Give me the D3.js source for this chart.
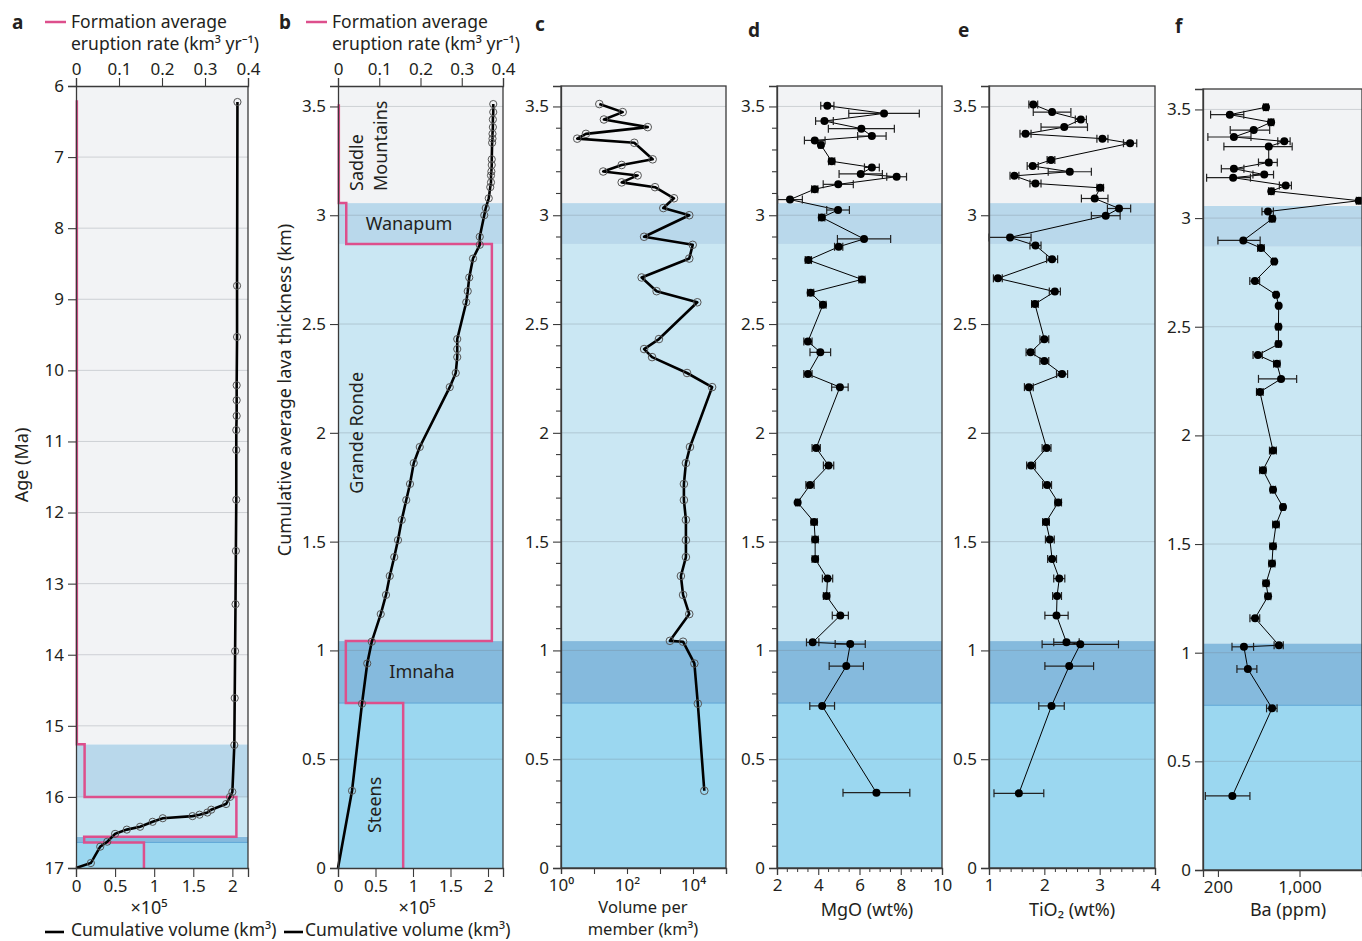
<!DOCTYPE html>
<html>
<head>
<meta charset="utf-8">
<script src="https://cdn.jsdelivr.net/npm/d3@7"></script>
<style>
  body { margin: 0; background: #fff; }
  text { font-family: "Noto Sans", "DejaVu Sans", sans-serif; fill: #231f20; }
</style>
</head>
<body>
<svg id="chart" width="1362" height="941"></svg>
<script>
// ---- formations (oldest first) ----
var formations = ["Steens", "Imnaha", "Grande Ronde", "Wanapum", "Saddle Mountains"];
var formationRate = [0.158, 0.019, 0.373, 0.02, 0.002];          // km3/yr
var formationAge = [17, 16.64, 16.56, 16.0, 15.26, 6.2];          // Ma, boundaries
var formationThick = [0, 0.758, 1.043, 2.868, 3.056, 3.51];       // km, boundaries
var bandColors = ["#9bd7f0", "#85badd", "#cae7f3", "#b9d8eb", "#f2f3f5"];

// ---- panel a: cumulative volume vs age ----
var ageA = [17, 16.93, 16.7, 16.63, 16.52, 16.46, 16.42, 16.35, 16.3, 16.27, 16.25, 16.22, 16.18, 16.1, 16.0, 15.93,
            15.27, 14.61, 13.95, 13.29, 12.54, 11.82, 11.12, 10.84, 10.64, 10.42, 10.21, 9.53, 8.81, 6.225];
var volA = [0, 0.19, 0.31, 0.4, 0.5, 0.65, 0.82, 0.98, 1.11, 1.49, 1.58, 1.68, 1.73, 1.92, 1.97, 2.0,
            2.025, 2.03, 2.035, 2.04, 2.045, 2.05, 2.05, 2.05, 2.055, 2.055, 2.055, 2.06, 2.06, 2.065];

// ---- panel b: cumulative volume vs cumulative thickness ----
var thickB = [0, 0.355, 0.755, 0.94, 1.04, 1.167, 1.255, 1.342, 1.429, 1.507, 1.6, 1.691, 1.765, 1.861, 1.935,
              2.21, 2.275, 2.348, 2.385, 2.431, 2.6, 2.651, 2.714, 2.801, 2.864, 2.901, 3.0, 3.033, 3.078,
              3.129, 3.151, 3.183, 3.201, 3.231, 3.257, 3.333, 3.352, 3.374, 3.405, 3.44, 3.474, 3.511];
var volB = [0, 0.187, 0.32, 0.39, 0.45, 0.57, 0.64, 0.69, 0.75, 0.8, 0.85, 0.91, 0.96, 1.01, 1.09,
            1.49, 1.57, 1.59, 1.59, 1.59, 1.71, 1.73, 1.75, 1.8, 1.89, 1.89, 1.95, 1.97, 2.01,
            2.03, 2.04, 2.04, 2.045, 2.05, 2.05, 2.055, 2.06, 2.06, 2.065, 2.065, 2.07, 2.07];

// ---- panel c: volume per member ----
var thickC = [0.355, 0.755, 0.94, 1.04, 1.044, 1.167, 1.255, 1.342, 1.429, 1.507, 1.6, 1.691, 1.765, 1.861, 1.935,
              2.21, 2.275, 2.348, 2.385, 2.431, 2.6, 2.651, 2.714, 2.801, 2.864, 2.901, 3.0, 3.033, 3.078,
              3.129, 3.151, 3.183, 3.201, 3.231, 3.257, 3.333, 3.352, 3.374, 3.405, 3.44, 3.474, 3.511];
var volC = [22000, 14000, 11000, 5000, 2000, 7700, 5000, 4300, 6100, 6100, 6100, 5300, 5300, 6100, 8100,
            38000, 6600, 575, 330, 930, 13500, 790, 278, 7700, 9800, 330, 7700, 1260, 2650,
            707, 69, 210, 19, 69, 600, 166, 3.1, 5.7, 425, 20, 74, 14.5];

// ---- panel d: MgO ----
var thickD = [0.346, 0.745, 0.928, 1.029, 1.037, 1.161, 1.25, 1.33, 1.42, 1.51, 1.59, 1.68, 1.76, 1.85, 1.93,
              2.21, 2.27, 2.37, 2.42, 2.589, 2.644, 2.705, 2.794, 2.855, 2.891, 2.99, 3.024, 3.072,
              3.12, 3.142, 3.177, 3.19, 3.22, 3.248, 3.323, 3.344, 3.364, 3.398, 3.433, 3.468, 3.503];
var mgo = [6.82, 4.19, 5.36, 5.55, 3.73, 5.07, 4.4, 4.45, 3.85, 3.85, 3.8, 3.0, 3.6, 4.5, 3.9,
           5.05, 3.5, 4.1, 3.5, 4.23, 3.63, 6.12, 3.52, 4.99, 6.22, 4.17, 4.96, 2.63,
           3.83, 4.97, 7.8, 6.06, 6.6, 4.65, 4.13, 3.83, 6.6, 6.09, 4.3, 7.19, 4.44];
var mgoErr = [1.62, 0.6, 0.83, 0.73, 0.3, 0.39, 0.15, 0.25, 0.15, 0.15, 0.15, 0.1, 0.2, 0.25, 0.2,
              0.4, 0.2, 0.5, 0.2, 0.15, 0.15, 0.15, 0.15, 0.2, 1.29, 0.15, 0.55, 0.6,
              0.15, 0.73, 0.48, 1.05, 0.36, 0.15, 0.1, 0.5, 0.69, 1.6, 0.43, 1.71, 0.32];

// ---- panel e: TiO2 ----
var thickE = [0.343, 0.745, 0.928, 1.028, 1.037, 1.161, 1.25, 1.33, 1.42, 1.51, 1.59, 1.68, 1.76, 1.85, 1.93,
              2.21, 2.27, 2.33, 2.37, 2.43, 2.592, 2.649, 2.71, 2.798, 2.861, 2.898, 2.998, 3.031, 3.077,
              3.126, 3.146, 3.181, 3.2, 3.226, 3.254, 3.331, 3.352, 3.374, 3.405, 3.44, 3.474, 3.509];
var tio2 = [1.54, 2.13, 2.45, 2.65, 2.4, 2.22, 2.23, 2.27, 2.14, 2.1, 2.03, 2.25, 2.05, 1.76, 2.04,
            1.72, 2.32, 2.0, 1.75, 2.0, 1.83, 2.19, 1.16, 2.14, 1.84, 1.38, 3.11, 3.35, 2.91,
            3.01, 1.84, 1.46, 2.46, 1.79, 2.12, 3.55, 3.05, 1.66, 2.36, 2.66, 2.14, 1.8];
var tio2Err = [0.45, 0.23, 0.44, 0.69, 0.23, 0.21, 0.08, 0.1, 0.08, 0.08, 0.06, 0.06, 0.08, 0.08, 0.08,
               0.08, 0.1, 0.08, 0.08, 0.08, 0.06, 0.1, 0.08, 0.1, 0.1, 0.38, 0.26, 0.21, 0.24,
               0.06, 0.1, 0.08, 0.39, 0.1, 0.07, 0.12, 0.1, 0.1, 0.42, 0.1, 0.34, 0.08];

// ---- panel f: Ba ----
var thickF = [0.341, 0.744, 0.925, 1.027, 1.034, 1.159, 1.26, 1.32, 1.41, 1.49, 1.59, 1.67, 1.75, 1.84, 1.93,
              2.2, 2.26, 2.33, 2.37, 2.42, 2.5, 2.597, 2.647, 2.71, 2.8, 2.862, 2.897, 2.997, 3.03, 3.08,
              3.124, 3.15, 3.186, 3.2, 3.227, 3.256, 3.329, 3.353, 3.373, 3.405, 3.441, 3.476, 3.51];
var ba = [266, 582, 361, 334, 666, 416, 538, 517, 581, 593, 629, 722, 593, 486, 593,
          458, 695, 640, 440, 660, 660, 663, 630, 415, 608, 468, 330, 585, 537, 3220,
          573, 762, 270, 499, 274, 545, 545, 741, 274, 405, 571, 253, 516];
var baErr = [110, 60, 70, 70, 60, 40, 30, 30, 35, 35, 40, 30, 30, 30, 40,
             30, 250, 40, 40, 30, 30, 20, 20, 40, 20, 30, 130, 30, 60, 150,
             30, 90, 110, 100, 60, 100, 320, 90, 110, 150, 30, 80, 25];

// ---- axes ticks ----
var ageTicks = d3.range(6, 18);
var thickTicks = [0, 0.5, 1, 1.5, 2, 2.5, 3, 3.5];
var volTicks = [0, 0.5e5, 1e5, 1.5e5, 2e5];
var rateTicks = [0, 0.1, 0.2, 0.3, 0.4];
var logVolTicks = [1, 10, 100, 1000, 1e4, 1e5];
var mgoTicks = [2, 4, 6, 8, 10];
var tio2Ticks = [1, 2, 3, 4];
var baTicks = [200, 1000];

var svg = d3.select("#chart");
var fmt = function (d) { return String(+d.toFixed(2)); };
var pink = "#dd4f8c";
var axisCol = "#3a3a3a";

function styleAxis(g) {
  g.selectAll("path.domain").attr("stroke", axisCol).attr("stroke-width", 1.3);
  g.selectAll(".tick line").attr("stroke", axisCol).attr("stroke-width", 1.1);
  g.selectAll(".tick text").style("font-size", "17px").attr("fill", "#231f20");
}

function drawBands(g, y, x0, x1, bounds, topVal, botVal) {
  for (var i = 0; i < formations.length; i++) {
    var a = i === 0 ? botVal : bounds[i];
    var b = i === formations.length - 1 ? topVal : bounds[i + 1];
    g.append("rect")
      .attr("x", x0).attr("width", x1 - x0)
      .attr("y", Math.min(y(a), y(b))).attr("height", Math.abs(y(a) - y(b)))
      .attr("fill", bandColors[i]);
  }
  // thin line under Imnaha
  g.append("line").attr("x1", x0).attr("x2", x1)
    .attr("y1", y(bounds[1])).attr("y2", y(bounds[1]))
    .attr("stroke", "#5ea6d6").attr("stroke-width", 1);
}

function drawGrid(g, y, x0, x1, ticks) {
  g.selectAll(null).data(ticks).enter().append("line")
    .attr("x1", x0).attr("x2", x1)
    .attr("y1", function (d) { return y(d); }).attr("y2", function (d) { return y(d); })
    .attr("stroke", "rgba(110,120,130,0.28)").attr("stroke-width", 1);
}

function frame(g, x0, x1, yTop, yBot) {
  g.append("rect").attr("x", x0).attr("y", yTop).attr("width", x1 - x0).attr("height", yBot - yTop)
    .attr("fill", "none").attr("stroke", axisCol).attr("stroke-width", 1.3);
}

function thickAxis(x0, y, minor) {
  var g = svg.append("g").attr("transform", "translate(" + x0 + ",0)")
    .call(d3.axisLeft(y).tickValues(thickTicks).tickFormat(fmt).tickSize(8).tickPadding(4));
  styleAxis(g);
  if (minor) {
    var mt = d3.range(0, 36).map(function (d) { return d / 10; })
      .filter(function (d) { return Math.abs(d * 2 - Math.round(d * 2)) > 0.01; });
    svg.append("g").selectAll(null).data(mt).enter().append("line")
      .attr("x1", x0 - 5).attr("x2", x0)
      .attr("y1", function (d) { return y(d); }).attr("y2", function (d) { return y(d); })
      .attr("stroke", axisCol).attr("stroke-width", 1.1);
  }
}

function label(x, y, t, opts) {
  opts = opts || {};
  var el = svg.append("text").attr("x", x).attr("y", y).text(t)
    .style("font-size", (opts.size || 18) + "px")
    .attr("text-anchor", opts.anchor || "start");
  if (opts.bold) el.style("font-weight", "bold");
  if (opts.rotate) el.attr("transform", "rotate(-90," + x + "," + y + ")");
  return el;
}

// ================= PANEL A =================
var aX0 = 76, aX1 = 248, top0 = 86, bot0 = 868;
var yAge = d3.scaleLinear().domain([6, 17]).range([top0, bot0]);
var xVolA = d3.scaleLinear().domain([0, 2.2e5]).range([aX0, aX1]);
var xRateA = d3.scaleLinear().domain([0, 0.4]).range([aX0, aX1]);

var gA = svg.append("g");
drawBands(gA, yAge, aX0, aX1, formationAge, 6, 17);
drawGrid(gA, yAge, aX0, aX1, ageTicks.slice(1, -1));

// pink step line (rate vs age)
function stepPoints(bounds, rates) {
  var pts = [];
  for (var i = formations.length - 1; i >= 0; i--) {
    pts.push([rates[i], bounds[i + 1]]);
    pts.push([rates[i], bounds[i]]);
  }
  return pts;
}
var ratePtsA = stepPoints(formationAge, formationRate);
gA.append("path").datum(ratePtsA)
  .attr("d", d3.line().x(function (d) { return xRateA(d[0]); }).y(function (d) { return yAge(d[1]); }))
  .attr("fill", "none").attr("stroke", pink).attr("stroke-width", 2.5);

var cumA = ageA.map(function (d, i) { return [volA[i] * 1e5, d]; });
gA.append("path").datum(cumA)
  .attr("d", d3.line().x(function (d) { return xVolA(d[0]); }).y(function (d) { return yAge(d[1]); }))
  .attr("fill", "none").attr("stroke", "#000").attr("stroke-width", 2.6);
gA.selectAll(null).data(cumA.slice(1)).enter().append("circle")
  .attr("cx", function (d) { return xVolA(d[0]); }).attr("cy", function (d) { return yAge(d[1]); })
  .attr("r", 3.6).attr("fill", "none").attr("stroke", "#555").attr("stroke-width", 1);

gA.append("line").attr("x1", aX1).attr("x2", aX1).attr("y1", top0).attr("y2", bot0)
  .attr("stroke", axisCol).attr("stroke-width", 1.3);
var axA = svg.append("g").attr("transform", "translate(" + aX0 + ",0)")
  .call(d3.axisLeft(yAge).tickValues(ageTicks).tickFormat(d3.format("d")).tickSize(8).tickPadding(4));
styleAxis(axA);
var axAb = svg.append("g").attr("transform", "translate(0," + bot0 + ")")
  .call(d3.axisBottom(xVolA).tickValues(volTicks).tickFormat(function (d) { return fmt(d / 1e5); }).tickSize(9).tickPadding(3));
styleAxis(axAb);
var axAt = svg.append("g").attr("transform", "translate(0," + top0 + ")")
  .call(d3.axisTop(xRateA).tickValues(rateTicks).tickFormat(fmt).tickSize(8).tickPadding(3));
styleAxis(axAt);

// ================= PANEL B =================
var bX0 = 338, bX1 = 503;
var yT = d3.scaleLinear().domain([0, 3.594]).range([bot0, top0]);
var xVolB = d3.scaleLinear().domain([0, 2.2e5]).range([bX0, bX1]);
var xRateB = d3.scaleLinear().domain([0, 0.4]).range([bX0, bX1]);
var gB = svg.append("g");
drawBands(gB, yT, bX0, bX1, formationThick, 3.594, 0);
drawGrid(gB, yT, bX0, bX1, thickTicks.slice(1));

var ratePtsB = stepPoints(formationThick, formationRate);
gB.append("path").datum(ratePtsB)
  .attr("d", d3.line().x(function (d) { return xRateB(d[0]); }).y(function (d) { return yT(d[1]); }))
  .attr("fill", "none").attr("stroke", pink).attr("stroke-width", 2.5);

var cumB = thickB.map(function (d, i) { return [volB[i] * 1e5, d]; });
gB.append("path").datum(cumB)
  .attr("d", d3.line().x(function (d) { return xVolB(d[0]); }).y(function (d) { return yT(d[1]); }))
  .attr("fill", "none").attr("stroke", "#000").attr("stroke-width", 2.6);
gB.selectAll(null).data(cumB.slice(1)).enter().append("circle")
  .attr("cx", function (d) { return xVolB(d[0]); }).attr("cy", function (d) { return yT(d[1]); })
  .attr("r", 3.6).attr("fill", "none").attr("stroke", "#555").attr("stroke-width", 1);

gB.append("line").attr("x1", bX1).attr("x2", bX1).attr("y1", top0).attr("y2", bot0)
  .attr("stroke", axisCol).attr("stroke-width", 1.3);
thickAxis(bX0, yT, false);
var axBb = svg.append("g").attr("transform", "translate(0," + bot0 + ")")
  .call(d3.axisBottom(xVolB).tickValues(volTicks).tickFormat(function (d) { return fmt(d / 1e5); }).tickSize(9).tickPadding(3));
styleAxis(axBb);
var axBt = svg.append("g").attr("transform", "translate(0," + top0 + ")")
  .call(d3.axisTop(xRateB).tickValues(rateTicks).tickFormat(fmt).tickSize(8).tickPadding(3));
styleAxis(axBt);

// formation names in panel b
label(363, 191, "Saddle", { rotate: true });
label(387, 191, "Mountains", { rotate: true });
label(409, yT((formationThick[3] + formationThick[4]) / 2) + 6, "Wanapum", { anchor: "middle" });
label(363, yT(2.0), "Grande Ronde", { rotate: true, anchor: "middle" });
label(422, yT((formationThick[1] + formationThick[2]) / 2) + 6, "Imnaha", { anchor: "middle" });
label(381, yT(0.29), "Steens", { rotate: true, anchor: "middle" });

// ================= PANEL C =================
var cX0 = 561, cX1 = 726;
var xC = d3.scaleLog().domain([1, 1e5]).range([cX0, cX1]);
var gC = svg.append("g");
drawBands(gC, yT, cX0, cX1, formationThick, 3.594, 0);
drawGrid(gC, yT, cX0, cX1, thickTicks.slice(1));
var ptsC = thickC.map(function (d, i) { return [volC[i], d]; });
gC.append("path").datum(ptsC)
  .attr("d", d3.line().x(function (d) { return xC(d[0]); }).y(function (d) { return yT(d[1]); }))
  .attr("fill", "none").attr("stroke", "#000").attr("stroke-width", 2.6).attr("stroke-linejoin", "round");
gC.selectAll(null).data(ptsC).enter().append("circle")
  .attr("cx", function (d) { return xC(d[0]); }).attr("cy", function (d) { return yT(d[1]); })
  .attr("r", 3.8).attr("fill", "none").attr("stroke", "#555").attr("stroke-width", 1);
frame(gC, cX0, cX1, top0, bot0);
thickAxis(cX0, yT, true);
var supDigits = { 0: "\u2070", 1: "\u00b9", 2: "\u00b2", 3: "\u00b3", 4: "\u2074", 5: "\u2075" };
var axCb = svg.append("g").attr("transform", "translate(0," + bot0 + ")")
  .call(d3.axisBottom(xC).tickValues(logVolTicks).tickSize(6).tickPadding(5)
    .tickFormat(function (d) {
      var p = Math.round(Math.log10(d));
      return p % 2 === 0 && p < 5 ? "10" + supDigits[p] : "";
    }));
styleAxis(axCb);

// ============ PANELS D, E, F (geochemistry) ============
function chemPanel(x0, x1, xs, thick, vals, errs, yS, ticks, minor, tickFmt) {
  var g = svg.append("g");
  drawBands(g, yS, x0, x1, formationThick, yS.domain()[1], 0);
  drawGrid(g, yS, x0, x1, thickTicks.slice(1));
  var pts = thick.map(function (d, i) { return [vals[i], d, errs[i]]; });
  var gc = g.append("g");
  gc.append("path").datum(pts)
    .attr("d", d3.line().x(function (d) { return xs(d[0]); }).y(function (d) { return yS(d[1]); }))
    .attr("fill", "none").attr("stroke", "#000").attr("stroke-width", 1);
  var eb = gc.selectAll(null).data(pts).enter().append("g").attr("stroke", "#222").attr("stroke-width", 1.2);
  eb.append("line")
    .attr("x1", function (d) { return xs(d[0] - d[2]); }).attr("x2", function (d) { return xs(d[0] + d[2]); })
    .attr("y1", function (d) { return yS(d[1]); }).attr("y2", function (d) { return yS(d[1]); });
  eb.append("line")
    .attr("x1", function (d) { return xs(d[0] - d[2]); }).attr("x2", function (d) { return xs(d[0] - d[2]); })
    .attr("y1", function (d) { return yS(d[1]) - 4; }).attr("y2", function (d) { return yS(d[1]) + 4; });
  eb.append("line")
    .attr("x1", function (d) { return xs(d[0] + d[2]); }).attr("x2", function (d) { return xs(d[0] + d[2]); })
    .attr("y1", function (d) { return yS(d[1]) - 4; }).attr("y2", function (d) { return yS(d[1]) + 4; });
  gc.selectAll(null).data(pts).enter().append("circle")
    .attr("cx", function (d) { return xs(d[0]); }).attr("cy", function (d) { return yS(d[1]); })
    .attr("r", 4).attr("fill", "#000");
  var yb = yS.range()[0], yt = yS.range()[1];
  frame(g, x0, x1, yt, yb);
  thickAxis(x0, yS, minor);
  var ax = svg.append("g").attr("transform", "translate(0," + yb + ")")
    .call(d3.axisBottom(xs).tickValues(ticks).tickFormat(tickFmt).tickSize(7).tickPadding(4));
  styleAxis(ax);
  return g;
}

var xD = d3.scaleLinear().domain([2, 10]).range([777, 942]);
chemPanel(777, 942, xD, thickD, mgo, mgoErr, yT, mgoTicks, true, d3.format("d"));
svg.append("g").selectAll(null).data(d3.range(2.5, 10, 0.5).filter(function (d) { return d % 2 !== 0; }))
  .enter().append("line")
  .attr("x1", function (d) { return xD(d); }).attr("x2", function (d) { return xD(d); })
  .attr("y1", bot0).attr("y2", bot0 + 4).attr("stroke", axisCol);

var xE = d3.scaleLinear().domain([1, 4]).range([989, 1155]);
chemPanel(989, 1155, xE, thickE, tio2, tio2Err, yT, tio2Ticks, false, d3.format("d"));
svg.append("g").selectAll(null).data(d3.range(1.2, 4, 0.2).filter(function (d) { return Math.abs(d - Math.round(d)) > 0.05; }))
  .enter().append("line")
  .attr("x1", function (d) { return xE(d); }).attr("x2", function (d) { return xE(d); })
  .attr("y1", bot0).attr("y2", bot0 + 4).attr("stroke", axisCol);

var yF = d3.scaleLinear().domain([0, 3.594]).range([870, 89]);
var xF = d3.scaleLog().domain([149, 3430]).range([1203, 1362]);
chemPanel(1203, 1362, xF, thickF, ba, baErr, yF, baTicks, false, d3.format(","));

// ================= TEXT =================
label(12, 29, "a", { bold: true, size: 19 });
label(279, 29, "b", { bold: true, size: 19 });
label(535, 31, "c", { bold: true, size: 19 });
label(748, 37, "d", { bold: true, size: 19 });
label(958, 37, "e", { bold: true, size: 19 });
label(1175, 33, "f", { bold: true, size: 19 });

[[45, 71], [306, 332]].forEach(function (p) {
  svg.append("line").attr("x1", p[0]).attr("x2", p[0] + 21).attr("y1", 22).attr("y2", 22)
    .attr("stroke", pink).attr("stroke-width", 2.5);
  label(p[1], 28, "Formation average", { size: 17.5 });
  label(p[1], 50, "eruption rate (km\u00b3 yr\u207b\u00b9)", { size: 17.5 });
});
[[45, 71, 149], [284, 305, 417]].forEach(function (p) {
  svg.append("line").attr("x1", p[0]).attr("x2", p[0] + 19).attr("y1", 932).attr("y2", 932)
    .attr("stroke", "#000").attr("stroke-width", 2.6);
  label(p[1], 936, "Cumulative volume (km\u00b3)", { size: 17.5 });
  label(p[2], 914, "\u00d710\u2075", { anchor: "middle", size: 18 });
});

label(28, 465, "Age (Ma)", { rotate: true, anchor: "middle" });
label(291, 390, "Cumulative average lava thickness (km)", { rotate: true, anchor: "middle" });
label(643, 913, "Volume per", { anchor: "middle", size: 16.5 });
label(643, 935, "member (km\u00b3)", { anchor: "middle", size: 16.5 });
label(867, 916, "MgO (wt%)", { anchor: "middle" });
label(1072, 916, "TiO\u2082 (wt%)", { anchor: "middle" });
label(1288, 916, "Ba (ppm)", { anchor: "middle" });
</script>
</body>
</html>
